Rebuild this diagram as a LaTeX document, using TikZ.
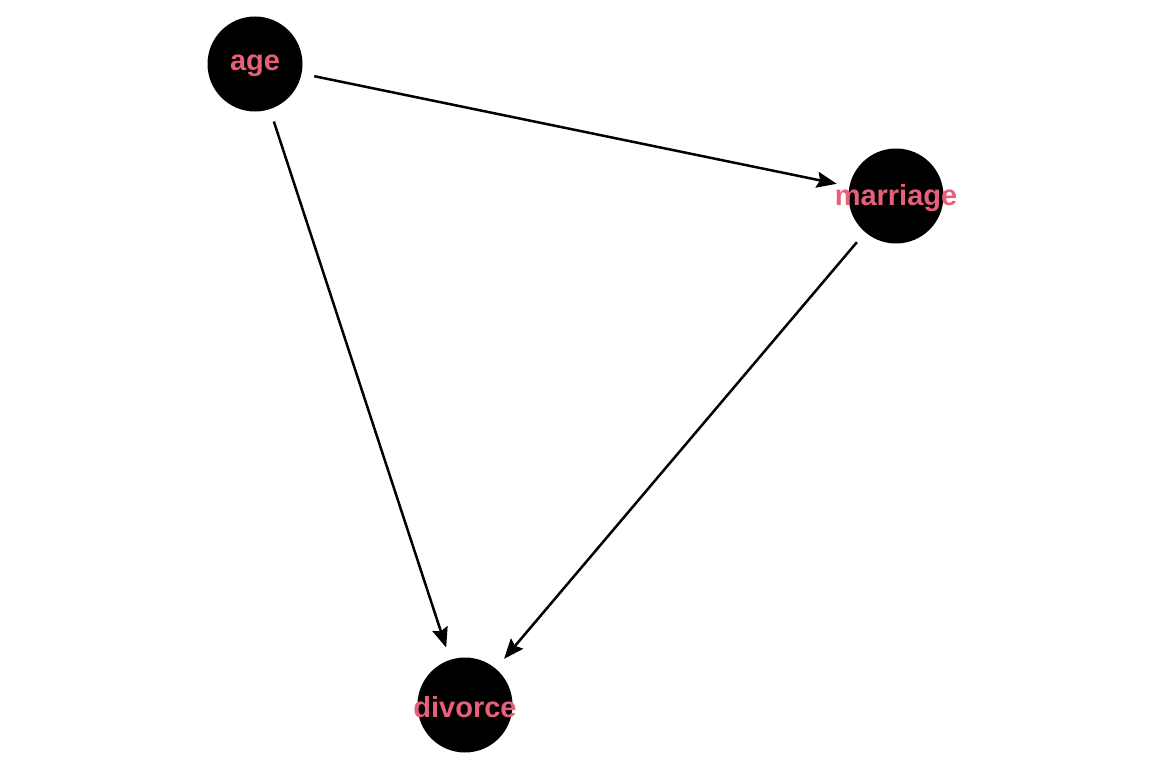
\documentclass[tikz,border=0pt]{standalone}
\usepackage{fontspec}
\setmainfont{Liberation Sans}
\usepackage{xcolor}
\usetikzlibrary{arrows.meta, positioning}
\definecolor{labelpink}{RGB}{232,96,120}

\begin{document}
\begin{tikzpicture}[x=1pt,y=-1pt,line width=2.5pt,
                    main node/.style={circle,draw=none,fill=black,minimum size=95pt,inner sep=0pt,outer sep=13pt},
                    name label/.style={font=\fontsize{29}{32}\selectfont\bfseries,text=labelpink,yshift=-2pt},
                    every edge/.style={draw,-{Stealth[length=20pt,width=16pt,inset=3pt]}}]

  \useasboundingbox (0,0) rectangle (1152,768);

  \node[main node,label={[name label]center:age}] (age) at (255,64) {};
  \node[main node,label={[name label]center:marriage}] (marriage) at (896,196) {};
  \node[main node,label={[name label]center:divorce}] (divorce) at (465,705) {};

  \path
    (age) edge (marriage)
          edge (divorce)
    (marriage) edge (divorce);

\end{tikzpicture}
\end{document}
